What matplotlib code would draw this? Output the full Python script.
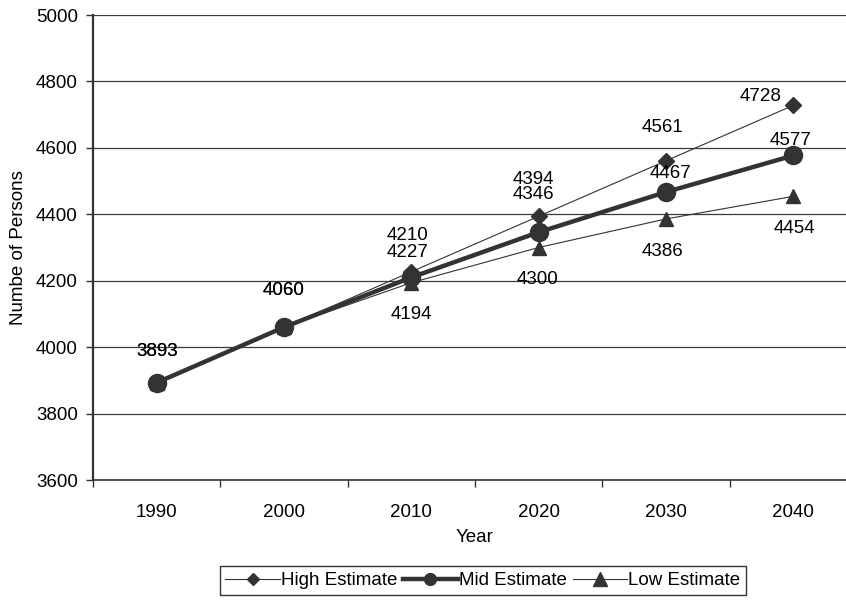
import matplotlib
matplotlib.use("Agg")
import matplotlib.pyplot as plt
from matplotlib.lines import Line2D

plt.rcParams['font.family'] = ['Liberation Sans', 'DejaVu Sans']

# Population projections (number of persons)
years = ["1990", "2000", "2010", "2020", "2030", "2040"]
high_estimate = [3893, 4060, 4227, 4394, 4561, 4728]
mid_estimate = [3893, 4060, 4210, 4346, 4467, 4577]
low_estimate = [3893, 4060, 4194, 4300, 4386, 4454]
y_ticks = [3600, 3800, 4000, 4200, 4400, 4600, 4800, 5000]

# value-label offsets in pixels (None = label not shown)
high_offsets = [(0, 31), (0, 37), (-4, 19), (-5, 37), (-3, 33), (-33, 9)]
mid_offsets = [(0, 31), (0, 37), (-4, 42), (-5, 38), (5, 19), (-3, 15)]
low_offsets = [None, None, (0, -32), (-1, -32), (-3, -33), (1, -32)]

ink = '#333333'
fs = 13.5

fig = plt.figure(figsize=(8.46, 6.0), dpi=100)
ax = fig.add_axes([93 / 846, 0.2, 764 / 846, 0.775])

x = list(range(len(years)))

# (name, values, line style, marker size in plot, marker size in legend, label offsets)
series = [
    ("High Estimate", high_estimate, dict(marker='D', lw=0.8), 8.5, 6.0, high_offsets),
    ("Mid Estimate", mid_estimate, dict(marker='o', lw=3.2), 13, 8.5, mid_offsets),
    ("Low Estimate", low_estimate, dict(marker='^', lw=0.8), 10, 10, low_offsets),
]

handles = []
for name, vals, style, ms, ms_leg, offs in series:
    ax.plot(x, vals, color=ink, markerfacecolor=ink, markeredgecolor=ink,
            markersize=ms, zorder=3, **style)
    handles.append(Line2D([], [], color=ink, markerfacecolor=ink, markeredgecolor=ink,
                          markersize=ms_leg, label=name, **style))
    for xi, v, off in zip(x, vals, offs):
        if off is None:
            continue
        ax.annotate(f"{v}", (xi, v), xytext=off, textcoords='offset pixels',
                    ha='center', va='center', fontsize=fs, color='black', zorder=4)

ax.set_xlim(-0.5, len(years) - 0.5)
ax.set_ylim(3600, 5000)

# category labels at centers, tick marks at category boundaries
ax.set_xticks(x)
ax.set_xticklabels(years, fontsize=fs)
ax.tick_params(axis='x', which='major', length=0, pad=17)
ax.set_xticks([i - 0.5 for i in range(len(years) + 1)], minor=True)
ax.tick_params(axis='x', which='minor', length=5, width=1, color=ink, direction='out')

ax.set_yticks(y_ticks)
ax.set_yticklabels([str(t) for t in y_ticks], fontsize=fs)
ax.tick_params(axis='y', length=5, width=1, color=ink, direction='out', pad=6)

ax.grid(axis='y', color='#3a3a3a', lw=0.9, zorder=1)
ax.set_axisbelow(True)

for s in ['top', 'right']:
    ax.spines[s].set_visible(False)
ax.spines['left'].set_color(ink)
ax.spines['left'].set_linewidth(1.6)
ax.spines['bottom'].set_color(ink)
ax.spines['bottom'].set_linewidth(1.2)

ax.set_xlabel("Year", fontsize=fs)
ax.xaxis.set_label_coords(0.5, -0.123)
ax.xaxis.label.set_va('center')
ax.set_ylabel("Numbe of Persons", fontsize=fs)
ax.yaxis.set_label_coords(-0.098, 0.5)
ax.yaxis.label.set_va('center')

leg = fig.legend(handles=handles, loc='center', bbox_to_anchor=(483 / 846, 1 - 580.5 / 600),
                 ncol=3, fontsize=fs, frameon=True, fancybox=False, edgecolor='black',
                 handlelength=2.9, handletextpad=0.08, columnspacing=0.3,
                 borderpad=0.3, borderaxespad=0)
leg.get_frame().set_linewidth(1.0)

fig.savefig("out.png", dpi=100)
